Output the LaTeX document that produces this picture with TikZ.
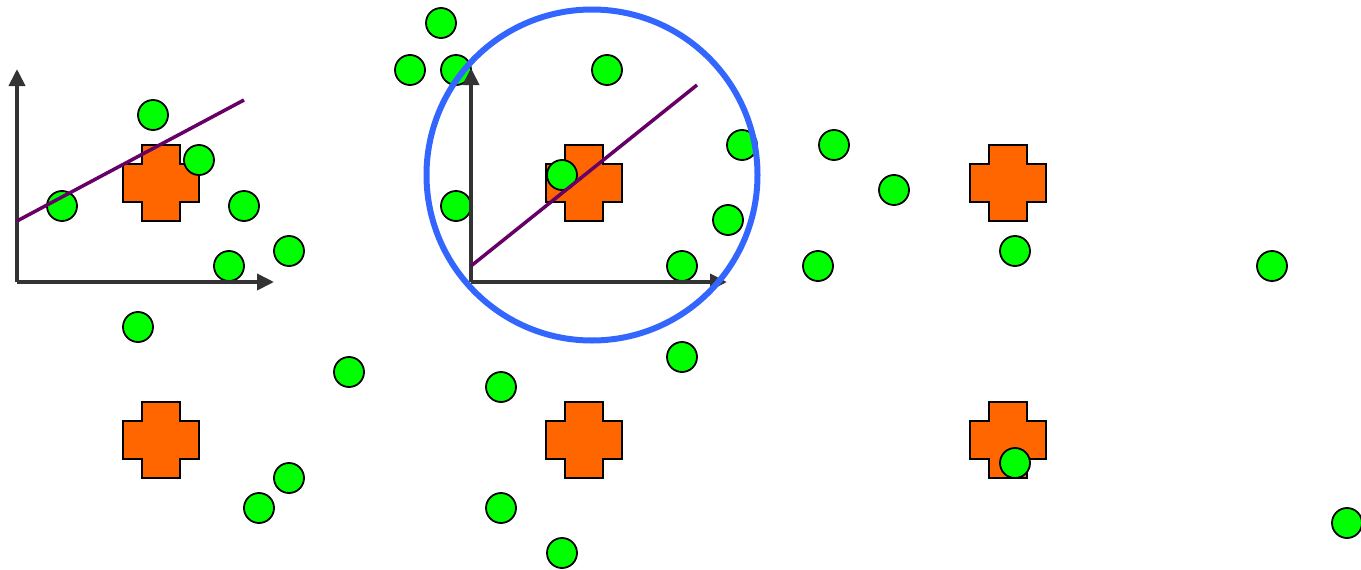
\documentclass[tikz,border=0pt]{standalone}
\usepackage{xcolor}
\usepackage{tikz}
\usetikzlibrary{arrows.meta}

\definecolor{dotgreen}{HTML}{00FF00}
\definecolor{crossorange}{HTML}{FF6600}
\definecolor{axisgray}{HTML}{333333}
\definecolor{fitpurple}{HTML}{660066}
\definecolor{ringblue}{HTML}{3366FF}

\newcommand{\orangecross}[2]{%
\draw[crossshape,shift={(#1,#2)}]
(-19,-38) -- (19,-38) -- (19,-19) -- (38,-19) -- (38,19) -- (19,19)
-- (19,38) -- (-19,38) -- (-19,19) -- (-38,19) -- (-38,-19) -- (-19,-19) -- cycle;}

\begin{document}
\begin{tikzpicture}[x=1pt,y=-1pt,
  greendot/.style={draw=black,fill=dotgreen,line width=1.8pt},
  crossshape/.style={draw=black,fill=crossorange,line width=1.6pt,line join=miter},
  axisline/.style={draw=axisgray,line width=3.8pt,-{Triangle[length=17pt,width=16pt]}},
  fitline/.style={draw=fitpurple,line width=3.5pt},
  ring/.style={draw=ringblue,line width=6pt}]

\useasboundingbox (0,0) rectangle (1361,570);

%-------------------------------------------------
% Crosses
%-------------------------------------------------

\orangecross{161}{183}
\orangecross{584}{183}
\orangecross{1008}{183}
\orangecross{161}{440}
\orangecross{584}{440}
\orangecross{1008}{440}

%-------------------------------------------------
% Green points
%-------------------------------------------------

\draw[greendot] (441,23) circle (15pt);
\draw[greendot] (410,70) circle (15pt);
\draw[greendot] (456,70) circle (15pt);
\draw[greendot] (607,70) circle (15pt);
\draw[greendot] (153,115) circle (15pt);
\draw[greendot] (199,160) circle (15pt);
\draw[greendot] (742,145) circle (15pt);
\draw[greendot] (834,145) circle (15pt);
\draw[greendot] (894,190) circle (15pt);
\draw[greendot] (62,206) circle (15pt);
\draw[greendot] (244,206) circle (15pt);
\draw[greendot] (456,206) circle (15pt);
\draw[greendot] (562,175) circle (15pt);
\draw[greendot] (728,220) circle (15pt);
\draw[greendot] (289,251) circle (15pt);
\draw[greendot] (229,266) circle (15pt);
\draw[greendot] (682,266) circle (15pt);
\draw[greendot] (818,266) circle (15pt);
\draw[greendot] (1015,251) circle (15pt);
\draw[greendot] (1272,266) circle (15pt);
\draw[greendot] (138,327) circle (15pt);
\draw[greendot] (349,372) circle (15pt);
\draw[greendot] (501,387) circle (15pt);
\draw[greendot] (682,357) circle (15pt);
\draw[greendot] (289,478) circle (15pt);
\draw[greendot] (259,508) circle (15pt);
\draw[greendot] (501,508) circle (15pt);
\draw[greendot] (562,553) circle (15pt);
\draw[greendot] (1015,463) circle (15pt);
\draw[greendot] (1347,523) circle (15pt);

%-------------------------------------------------
% Left axes + fit
%-------------------------------------------------

\draw[axisline] (17,282) -- (17,69);
\draw[axisline] (17,282) -- (274,282);
\draw[fitline] (17,221) -- (244,100);

%-------------------------------------------------
% Middle axes + fit
%-------------------------------------------------

\draw[axisline] (471,282) -- (471,68);
\draw[axisline] (471,282) -- (727,282);
\draw[fitline] (471,266) -- (697,85);

% Neighbourhood circle
\draw[ring] (592,175) circle (165.5pt);

\end{tikzpicture}
\end{document}
